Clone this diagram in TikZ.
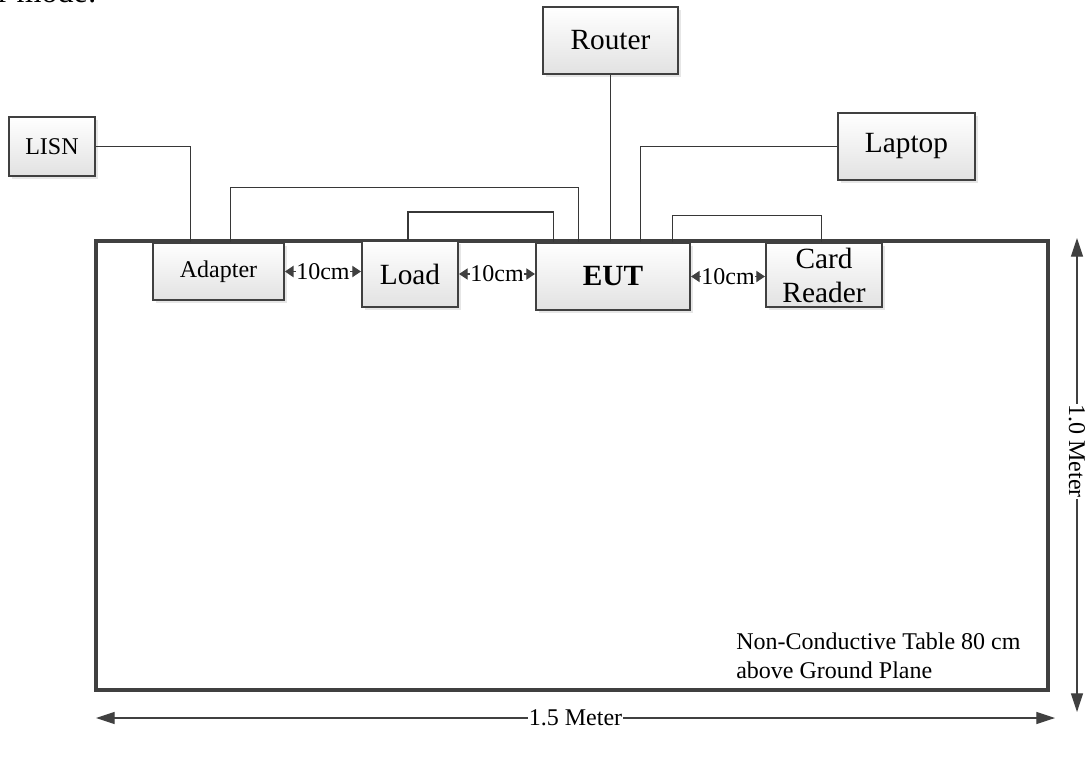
\documentclass[tikz,border=0pt]{standalone}
\usepackage{fontspec}
\setmainfont{Liberation Serif}
\usetikzlibrary{arrows.meta, positioning, calc, shadows}
\definecolor{boxline}{RGB}{64, 64, 64}
\definecolor{boxshade}{RGB}{226, 226, 226}
\definecolor{wirecol}{RGB}{55, 55, 55}

\tikzset{
  devbox/.style={draw=boxline, line width=1.6pt, top color=white, bottom color=boxshade,
    drop shadow={shadow xshift=2pt, shadow yshift=-2pt, opacity=0.2},
    inner sep=2pt, align=center, font=\fontsize{22}{25.5}\selectfont},
  smallbox/.style={devbox, font=\fontsize{18}{22}\selectfont},
  wire/.style={draw=wirecol, line width=0.9pt},
  gap/.style={{Triangle[length=6.5pt, width=8.5pt]}-{Triangle[length=6.5pt, width=8.5pt]}, draw=boxline, line width=0.9pt},
  dimline/.style={{Triangle[length=14pt, width=9pt]}-{Triangle[length=14pt, width=9pt]}, draw=boxline, line width=0.9pt},
  dimlabel/.style={fill=white, inner sep=0.5pt, font=\fontsize{18}{22}\selectfont}
}

\begin{document}
\begin{tikzpicture}[x=0.75pt, y=-0.75pt]
  \useasboundingbox (0,0) rectangle (1087,758);

  % clipped text line above the figure
  \node[anchor=base east, inner sep=0, font=\fontsize{24}{28}\selectfont] (frag) at (97,2) {or mode:};

  % Table
  \node[draw=boxline, line width=2.6pt, minimum width=714pt, minimum height=336.75pt, inner sep=0] (table) at (572,465.5) {};

  % Boxes on the table
  \node[smallbox, minimum width=98pt, minimum height=43pt] (adapter) at (218.5,271.5) {Adapter};
  \node[devbox, minimum width=72pt, minimum height=49.5pt] (load) at (410,274) {Load};
  \node[devbox, minimum width=115.5pt, minimum height=50pt, font=\fontsize{22}{25.5}\selectfont\bfseries] (eut) at (613,276.5) {EUT};
  \node[devbox, minimum width=87pt, minimum height=48pt] (cardreader) at (824,275) {Card\\Reader};

  % Boxes off the table
  \node[smallbox, minimum width=64.5pt, minimum height=44pt] (lisn) at (52,146.5) {LISN};
  \node[devbox, minimum width=101pt, minimum height=50pt] (router) at (610.5,40.5) {Router};
  \node[devbox, minimum width=103pt, minimum height=50pt] (laptop) at (906.5,146.5) {Laptop};

  % Cables
  \draw[wire] (lisn.east) -| ($(adapter.north west)!0.29!(adapter.north east)$);
  \draw[wire] ($(adapter.north west)!0.59!(adapter.north east)$) -- ++(0,-54) -| ($(eut.north west)!0.28!(eut.north east)$);
  \draw[wire] ($(load.north west)!0.48!(load.north east)$) -- ++(0,-28) -| ($(eut.north west)!0.117!(eut.north east)$);
  \draw[wire] (router.south) -- (router.south |- eut.north);
  \draw[wire] (laptop.west) -| ($(eut.north west)!0.675!(eut.north east)$);
  \draw[wire] ($(eut.north west)!0.88!(eut.north east)$) -- ++(0,-27) -| ($(cardreader.north west)!0.48!(cardreader.north east)$);

  % Spacing between boxes
  \draw[gap] (adapter.east) -- (adapter.east -| load.west) node[midway, dimlabel] {10cm};
  \draw[gap] (load.east) -- (load.east -| eut.west) node[midway, dimlabel] {10cm};
  \draw[gap] (eut.east) -- (eut.east -| cardreader.west) node[midway, dimlabel] {10cm};

  % Table note
  \node[anchor=west, align=left, inner sep=0, font=\fontsize{18}{21.75}\selectfont] (note) at (736,656) {Non-Conductive Table 80 cm\\above Ground Plane};

  % Dimensions
  \coordinate (wleft) at (96,718);
  \coordinate (wright) at (1055,718);
  \draw[dimline] (wleft) -- (wright) node[midway, dimlabel] {1.5 Meter};
  \coordinate (htop) at (1077,238);
  \coordinate (hbot) at (1077,712);
  \draw[dimline] (htop) -- (hbot) node[pos=0.45, dimlabel, rotate=-90] {1.0 Meter};
\end{tikzpicture}
\end{document}
